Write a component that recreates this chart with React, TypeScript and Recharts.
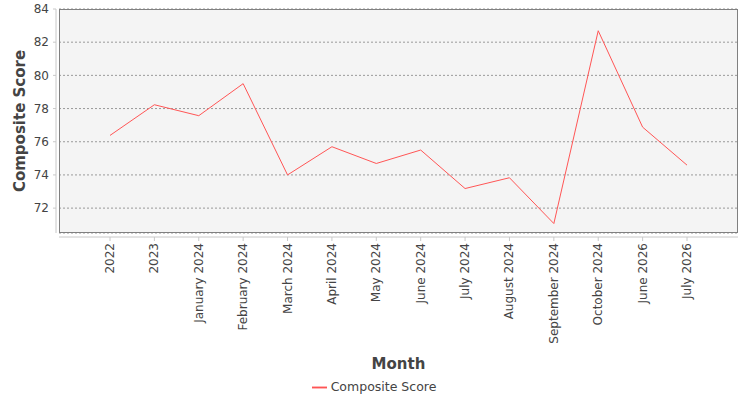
import * as Recharts from 'recharts';
import {
	CartesianGrid,
	Legend,
	Line,
	LineChart,
	XAxis,
	YAxis,
} from 'recharts';

const months = [
	'2022',
	'2023',
	'January 2024',
	'February 2024',
	'March 2024',
	'April 2024',
	'May 2024',
	'June 2024',
	'July 2024',
	'August 2024',
	'September 2024',
	'October 2024',
	'June 2026',
	'July 2026',
];

const compositeScore = [
	76.38, 78.23, 77.57, 79.5, 74.0, 75.7, 74.69, 75.5, 73.18, 73.83, 71.07,
	82.69, 76.88, 74.59,
];

const yTicks = [72, 74, 76, 78, 80, 82, 84];

const chartData = months.map((month, i) => ({
	month,
	score: compositeScore[i],
}));

const FONT = '"DejaVu Sans", sans-serif';
const TEXT = '#444444';

const MARGIN = { top: 9, right: 12, bottom: 5, left: 0 };
const Y_WIDTH = 59;

// frame around the plot area
function PlotFrame() {
	const usePlotArea = (Recharts as any).usePlotArea;
	const area = usePlotArea ? usePlotArea() : null;
	if (!area) return null;
	return (
		<rect
			x={area.x + 0.5}
			y={area.y + 0.5}
			width={area.width - 1}
			height={area.height - 1}
			fill="none"
			stroke="#808080"
			strokeWidth={1}
		/>
	);
}

function MonthTick(props: any) {
	const { x, y, payload } = props;
	return (
		<text
			x={x}
			y={y}
			transform={`rotate(-90, ${x}, ${y})`}
			textAnchor="end"
			dy={4}
			fontSize={12}
			fontFamily={FONT}
			fill={TEXT}
		>
			{payload.value}
		</text>
	);
}

export default function App() {
	return (
		<div
			style={{
				position: 'absolute',
				left: 0,
				top: 0,
				width: 750,
				height: 400,
				background: '#fff',
				fontFamily: FONT,
			}}
		>
			<LineChart width={750} height={400} data={chartData} margin={MARGIN}>
				<CartesianGrid
					vertical={false}
					fill="#f4f4f4"
					stroke="#999999"
					strokeDasharray="2 2"
				/>
				<XAxis
					dataKey="month"
					interval={0}
					padding={{ left: 51, right: 51 }}
					height={146}
					tick={<MonthTick />}
					tickSize={4}
					tickMargin={6}
					axisLine={{ stroke: '#c8c8c8', transform: 'translate(0,4)' }}
					tickLine={{ stroke: '#c8c8c8', transform: 'translate(0,4)' }}
					label={{
						value: 'Month',
						position: 'insideBottom',
						offset: 10,
						fill: TEXT,
						fontSize: 15,
						fontWeight: 'bold',
						fontFamily: FONT,
					}}
				/>
				<YAxis
					width={Y_WIDTH}
					domain={[70.5, 84]}
					ticks={yTicks}
					allowDataOverflow
					tickSize={3}
					tickMargin={7}
					tick={{ fill: TEXT, fontSize: 12, fontFamily: FONT }}
					axisLine={{ stroke: '#c8c8c8', transform: 'translate(-3,0)' }}
					tickLine={{ stroke: '#c8c8c8', transform: 'translate(-3,0)' }}
					label={{
						value: 'Composite Score',
						angle: -90,
						position: 'insideLeft',
						offset: 20,
						style: { textAnchor: 'middle' },
						fill: TEXT,
						fontSize: 15,
						fontWeight: 'bold',
						fontFamily: FONT,
					}}
				/>
				<Legend
					verticalAlign="bottom"
					iconSize={15}
					wrapperStyle={{
						left: 4,
						width: 750,
						fontSize: 12.5,
						fontFamily: FONT,
						color: TEXT,
					}}
					formatter={(value: string) => (
						<span style={{ color: TEXT }}>{value}</span>
					)}
				/>
				<Line
					type="linear"
					dataKey="score"
					name="Composite Score"
					stroke="#ff5555"
					strokeWidth={1}
					dot={false}
					activeDot={false}
					legendType="plainline"
					isAnimationActive={false}
				/>
				<PlotFrame />
			</LineChart>
		</div>
	);
}
